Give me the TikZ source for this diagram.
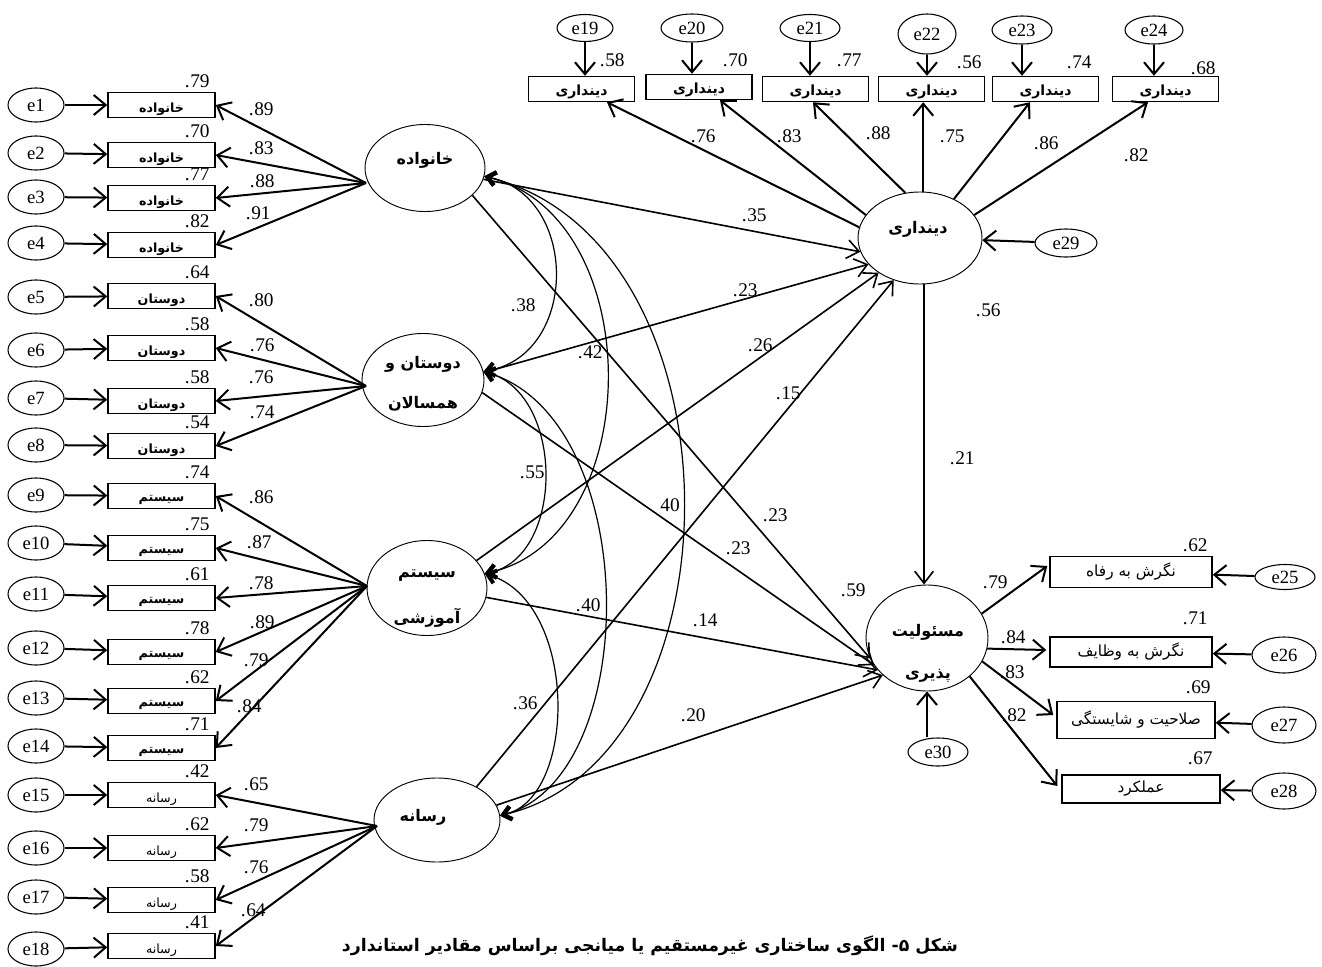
\documentclass[tikz,border=0pt]{standalone}
\usepackage{fontspec}
\setmainfont{Liberation Serif}
\newfontfamily\fa[Script=Arabic]{DejaVu Sans}
\TeXXeTstate=1
\usetikzlibrary{arrows.meta,shapes.geometric,calc}
\newcommand\fat[1]{\beginR #1\endR}
\tikzset{
 sz/.style n args={2}{minimum width=#1*0.75pt, minimum height=#2*0.75pt},
 ebox/.style={draw, ellipse, line width=0.8pt, inner sep=0pt, font=\fontsize{14}{16}\selectfont},
 obox/.style={draw, rectangle, line width=1.1pt, inner sep=0pt},
 lat/.style={draw, ellipse, line width=0.7pt, inner sep=0pt},
 arr/.style={line width=1.5pt, -{Straight Barb[length=9pt,width=15pt]}},
 spath/.style={line width=1.2pt, -{Straight Barb[length=9pt,width=14pt]}},
 cov/.style={line width=0.9pt, {Straight Barb[length=6pt,width=10pt,line width=3pt]}-{Straight Barb[length=6pt,width=10pt,line width=3pt]}},
 num/.style={inner sep=0pt, font=\fontsize{14.5}{16}\selectfont},
 lt/.style={inner sep=0pt, font=\fa\bfseries\fontsize{12}{14}\selectfont},
 bt/.style={inner sep=0pt, font=\fa\bfseries\fontsize{9.5}{11}\selectfont},
 btr/.style={inner sep=0pt, font=\fa\fontsize{9.5}{11}\selectfont},
 tbt/.style={inner sep=0pt, font=\fa\bfseries\fontsize{10.5}{12}\selectfont},
 rt/.style={inner sep=0pt, font=\fa\fontsize{11.5}{13}\selectfont},
}
% number label ".dd" centred near (x,y)
\newcommand\numlab[3]{%
  \node[num, anchor=base west] (nd) at (#1-7,#2+6.5) {#3};
  \node[num, anchor=base east] (ndot) at (nd.base west) {.};}
\begin{document}
\begin{tikzpicture}[x=0.75pt,y=-0.75pt]
\useasboundingbox[fill=white] (0,0) rectangle (1322,967);

% ---------- latent variables ----------
\node[lat, sz={120}{87}] (kh) at (425,168) {};
\node[lt] (khT) at (425,160) {\fat{خانواده}};
\node[lat, sz={122}{93}] (dv) at (423,380) {};
\node[lt] (dvT1) at (423,364) {\fat{دوستان و}};
\node[lt] (dvT2) at (423,404) {\fat{همسالان}};
\node[lat, sz={120}{95}] (ss) at (427,588) {};
\node[lt] (ssT1) at (427,576) {\fat{سیستم}};
\node[lt] (ssT2) at (427,618) {\fat{آموزشی}};
\node[lat, sz={126}{84}] (rs) at (437,820) {};
\node[lt] (rsT) at (423,817) {\fat{رسانه}};
\node[lat, sz={124}{92}] (dn) at (920,238) {};
\node[lt] (dnT) at (918,229) {\fat{دینداری}};
\node[lat, sz={122}{106}] (ms) at (927,638) {};
\node[lt] (msT1) at (928,632) {\fat{مسئولیت}};
\node[lt] (msT2) at (928,676) {\fat{پذیری}};

% ---------- left indicators ----------
\coordinate (khL) at (366,183);
\coordinate (dvL) at (366,386);
\coordinate (ssL) at (367,586);
\coordinate (rsL) at (377,826);
\foreach \i/\by/\ey/\r in {1/105/105/79, 2/155/153/70, 3/198/197/77, 4/245/243/82}{
  \node[ebox, sz={56}{34}] (e\i) at (36,\ey) {e\i};
  \node[obox, sz={107}{25}] (b\i) at (161.5,\by) {};
  \node[bt] at (161.5,\by+4) {\fat{خانواده}};
  \numlab{197}{\by-24}{\r}
  \draw[arr] (e\i) -- (b\i);
  \draw[arr] (khL) -- (b\i.east);
}
\foreach \i/\by/\ey/\r in {5/296/297/64, 6/348/350/58, 7/401/398/58, 8/446/445/54}{
  \node[ebox, sz={56}{34}] (e\i) at (36,\ey) {e\i};
  \node[obox, sz={107}{25}] (b\i) at (161.5,\by) {};
  \node[bt] at (161.5,\by+4) {\fat{دوستان}};
  \numlab{197}{\by-24}{\r}
  \draw[arr] (e\i) -- (b\i);
  \draw[arr] (dvL) -- (b\i.east);
}
\foreach \i/\by/\ey/\r in {9/496/495/74, 10/548/543/75, 11/598/594/61, 12/652/648/78, 13/701/698/62, 14/748/746/71}{
  \node[ebox, sz={56}{34}] (e\i) at (36,\ey) {e\i};
  \node[obox, sz={107}{25}] (b\i) at (161.5,\by) {};
  \node[bt] at (161.5,\by+4) {\fat{سیستم}};
  \numlab{197}{\by-24}{\r}
  \draw[arr] (e\i) -- (b\i);
  \draw[arr] (ssL) -- (b\i.east);
}
\foreach \i/\by/\ey/\r in {15/795/795/42, 16/848/848/62, 17/900/897/58, 18/946/949/41}{
  \node[ebox, sz={56}{34}] (e\i) at (36,\ey) {e\i};
  \node[obox, sz={107}{25}] (b\i) at (161.5,\by) {};
  \node[btr] at (161.5,\by+4) {\fat{رسانه}};
  \numlab{197}{\by-24}{\r}
  \draw[arr] (e\i) -- (b\i);
  \draw[arr] (rsL) -- (b\i.east);
}
\foreach \x/\y/\v in {261/109/89, 261/148/83, 262/181/88, 258/213/91,
  261/300/80, 262/345/76, 261/377/76, 262/412/74,
  261/497/86, 259/542/87, 261/583/78, 262/622/89, 256/660/79, 249/706/84,
  256/784/65, 256/825/79, 256/867/76, 253/910/64}{
  \numlab{\x}{\y}{\v}
}

% ---------- top indicators ----------
\foreach \i/\bx/\by/\ex/\ey/\ew/\eh in {19/581.5/89/585/28/56/27, 20/699/87/692/28/62/28, 21/815.5/89/810/28/60/27, 22/931.5/89/927/34/58/40, 23/1045.5/89/1022/30/60/28, 24/1165.5/89/1154/30/58/28}{
  \node[ebox, sz={\ew}{\eh}] (e\i) at (\ex,\ey) {e\i};
  \node[obox, sz={106}{25}] (b\i) at (\bx,\by) {};
  \node[tbt] at (\bx,\by+3) {\fat{دینداری}};
  \draw[arr] (e\i.south) -- (e\i.south |- b\i.north);
}
\foreach \x/\y/\v in {612/60/58, 735/60/70, 849/60/77, 969/62/56, 1079/62/74, 1203/68/68}{
  \numlab{\x}{\y}{\v}
}
\draw[arr] (dn.170) -- ($(b19.south)+(25.5,0)$);
\draw[arr] (dn.157) -- ($(b20.south)+(21,0)$);
\draw[arr] (dn.108) -- ($(b21.south)+(-2.5,0)$);
\draw[arr] (dn.86) -- (dn.86 |- b22.south);
\draw[arr] (dn.49) -- ($(b23.south)+(-15.5,0)$);
\draw[arr] (dn.23) -- ($(b24.south)+(-17.5,0)$);
\foreach \x/\y/\v in {703/136/76, 789/136/83, 878/133/88, 952/136/75, 1046/143/86, 1136/155/82}{
  \numlab{\x}{\y}{\v}
}

% ---------- e29, e30 ----------
\node[ebox, sz={62}{28}] (e29) at (1066,243) {e29};
\draw[arr] (e29) -- (dn);
\node[ebox, sz={60}{28}] (e30) at (938,752) {e30};
\draw[arr] (e30.north -| ms.south) -- (ms.south);

% ---------- right indicators ----------
\node[obox, sz={162}{31}] (r1) at (1131,572) {};
\node[rt] at (1131,571) {\fat{نگرش به رفاه}};
\node[obox, sz={162}{30}] (r2) at (1131,652) {};
\node[rt] at (1131,651) {\fat{نگرش به وظایف}};
\node[obox, sz={158}{37}] (r3) at (1136,720) {};
\node[rt] at (1136,719) {\fat{صلاحیت و شایستگی}};
\node[obox, sz={158}{28}] (r4) at (1141,789) {};
\node[rt] at (1141,789) {\fat{عملکرد}};
\node[ebox, sz={60}{25}] (e25) at (1285,577) {e25};
\node[ebox, sz={64}{36}] (e26) at (1284,655) {e26};
\node[ebox, sz={64}{36}] (e27) at (1284,725) {e27};
\node[ebox, sz={64}{36}] (e28) at (1284,791) {e28};
\draw[arr] (e25) -- (r1);
\draw[arr] (e26) -- (r2);
\draw[arr] (e27) -- (r3);
\draw[arr] (e28) -- (r4);
\draw[arr] (ms.24) -- ($(r1.west)+(-2,-6)$);
\draw[arr] (ms.-10) -- ($(r2.west)+(-3,-2)$);
\draw[arr] (ms.-23) -- ($(r3.west)+(-3,-5)$);
\draw[arr] (ms.-42) -- ($(r4.west)+(-4,-3)$);
\foreach \x/\y/\v in {995/582/79, 1013/637/84, 1012/672/83, 1014/715/82,
  1195/545/62, 1195/618/71, 1198/687/69, 1200/758/67}{
  \numlab{\x}{\y}{\v}
}

% ---------- structural paths ----------
\draw[spath] (kh.-11) -- (dn.-167);
\draw[spath] (dv.7) -- (dn.-153);
\draw[spath] (ss.29) -- (dn.-140);
\draw[spath] (rs.40) -- (dn.-122);
\draw[spath] (kh.-30) -- (ms.-160);
\draw[spath] (dv.-12) -- (ms.-153);
\draw[spath] (ss.-9) -- (ms.-147);
\draw[spath] (rs.14) -- (ms.-140);
\draw[spath] (dn.-85) -- (dn.-85 |- ms.north);
\foreach \x/\y/\v in {754/215/35, 745/290/23, 760/345/26, 788/393/15,
  775/515/23, 738/548/23, 705/620/14, 693/715/20,
  962/458/21, 988/310/56, 853/590/59}{
  \numlab{\x}{\y}{\v}
}

% ---------- covariances ----------
\draw[cov] (kh.-8) .. controls (579,196) and (579,354) .. (dv.8);
\draw[cov] (kh.-8) .. controls (648,216) and (648,537) .. (ss.14);
\draw[cov] (kh.-8) .. controls (747,241) and (747,757) .. (rs.4);
\draw[cov] (dv.8) .. controls (565,394) and (565,557) .. (ss.14);
\draw[cov] (dv.8) .. controls (643,419) and (643,777) .. (rs.4);
\draw[cov] (ss.14) .. controls (578,602) and (578,797) .. (rs.4);
\foreach \x/\y/\v in {523/305/38, 590/352/42, 532/472/55, 588/605/40, 525/703/36}{
  \numlab{\x}{\y}{\v}
}
\node[num] (n40) at (670,505) {40};

% ---------- caption ----------
\node[inner sep=0pt, font=\fa\bfseries\fontsize{13}{15}\selectfont] (cap) at (650,946) {\fat{شکل ۵- الگوی ساختاری غیرمستقیم یا میانجی براساس مقادیر استاندارد}};
\end{tikzpicture}
\end{document}
